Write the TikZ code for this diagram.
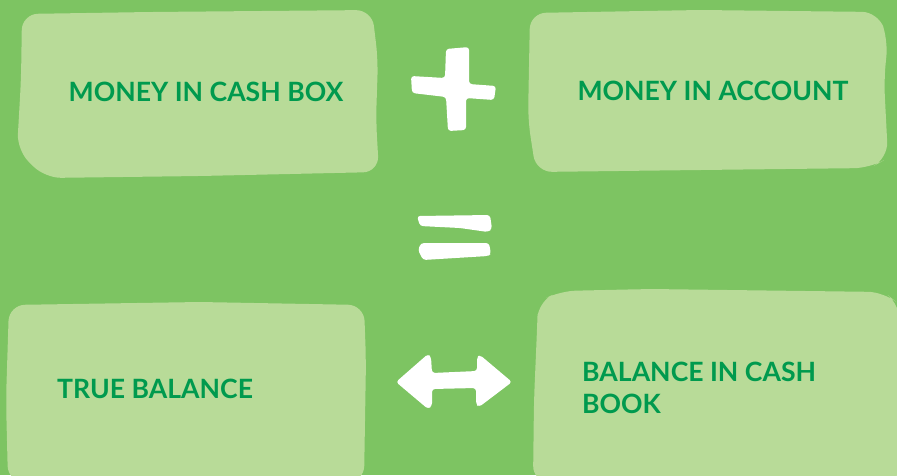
\documentclass[tikz,border=0pt]{standalone}
\usepackage{fontspec}
\setmainfont{Lato}
\definecolor{bgc}{HTML}{7DC462}
\definecolor{boxc}{HTML}{B8DB98}
\definecolor{txtc}{HTML}{009A4E}
\begin{document}
\begin{tikzpicture}[x=1pt,y=-1pt,
  box/.style={fill=boxc, rounded corners=16pt},
  lbl/.style={text=txtc, font=\fontsize{26.6}{32}\selectfont\bfseries, inner sep=0pt},
  sym/.style={fill=white, rounded corners=3pt}]
\fill[bgc] (0,0) rectangle (897,475);
\useasboundingbox (0,0) rectangle (897,475);
% boxes
\fill[box] (22,14) -- (150,12) -- (372,10) -- (378,60) -- (376,120) -- (379,172) -- (200,176) -- (45,178) -- (17,150) -- (21,80) -- cycle;
\fill[box] (530,13) -- (700,10) -- (878,12) -- (888,40) -- (884,80) -- (888,158) -- (870,168) -- (700,170) -- (536,172) -- (528,120) -- cycle;
\fill[box] (9,305) -- (200,302) -- (364,305) -- (366,360) -- (364,482) -- (8,482) -- (6,400) -- cycle;
\fill[box] (538,302) -- (560,291) -- (650,289) -- (884,292) -- (900,305) -- (900,482) -- (533,482) -- (534,400) -- (537,330) -- cycle;
% labels
\node[lbl] (cashbox) at (206,92) {MONEY IN CASH BOX};
\node[lbl] (account) at (713,91) {MONEY IN ACCOUNT};
\node[lbl, anchor=west] (truebal) at (57,389) {TRUE BALANCE};
\node[lbl, anchor=west, align=left] (cashbook) at (582,388) {BALANCE IN CASH\\BOOK};
% plus
\fill[sym] (446,49) -- (469,47) -- (469,84) -- (496,86) -- (494,100) -- (466,98) -- (466,130) -- (448,131) -- (446,97) -- (412,93) -- (411,76) -- (445,78) -- cycle;
% equals
\fill[sym] (417,216) -- (490,215) -- (492,229) -- (488,232) -- (460,228) -- (420,226) -- cycle;
\fill[sym] (421,243) -- (489,243) -- (491,254) -- (488,256) -- (423,260) -- (418,250) -- cycle;
% double arrow
\fill[sym] (396,382) -- (428,354) -- (431,357) -- (432,373) -- (477,371) -- (477,357) -- (480,355) -- (512,382) -- (479,407) -- (476,404) -- (476,388) -- (432,389) -- (432,406) -- (428,409) -- cycle;
\end{tikzpicture}
\end{document}
